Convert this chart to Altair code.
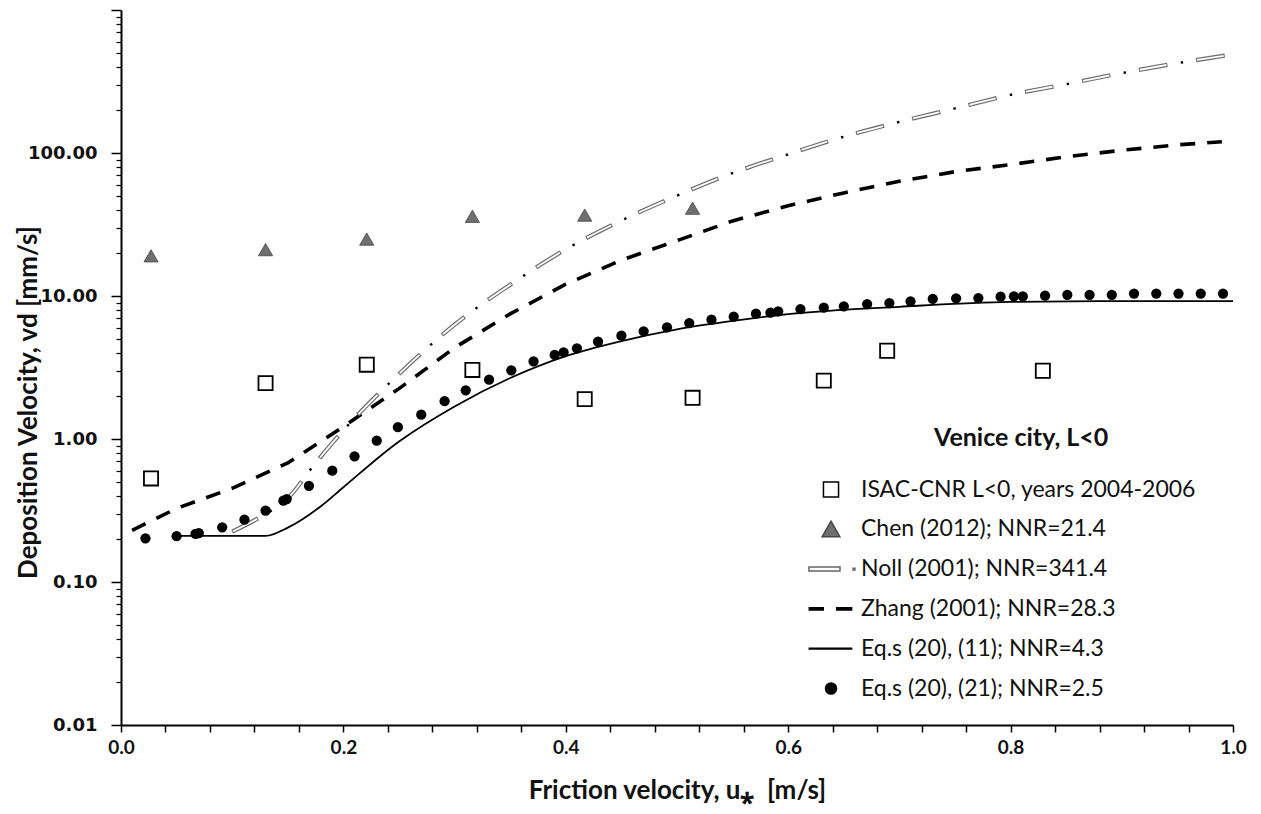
import altair as alt
import pandas as pd

S_ISAC = "ISAC-CNR L<0, years 2004-2006"
S_CHEN = "Chen (2012); NNR=21.4"
S_NOLL = "Noll (2001); NNR=341.4"
S_ZHANG = "Zhang (2001); NNR=28.3"
S_EQ11 = "Eq.s (20), (11); NNR=4.3"
S_EQ21 = "Eq.s (20), (21); NNR=2.5"
series_names = [S_ISAC, S_CHEN, S_NOLL, S_ZHANG, S_EQ11, S_EQ21]

isac_u = [0.027, 0.130, 0.221, 0.316, 0.417, 0.514, 0.632, 0.689, 0.829]
isac_v = [0.53, 2.46, 3.31, 3.04, 1.90, 1.94, 2.56, 4.14, 3.00]

chen_u = [0.027, 0.130, 0.221, 0.316, 0.417, 0.514]
chen_v = [19.1, 21.1, 25.0, 36.1, 36.8, 41.1]

noll_u = [0.10, 0.125, 0.15, 0.175, 0.20, 0.25, 0.30, 0.35, 0.40, 0.45, 0.50,
          0.55, 0.60, 0.65, 0.70, 0.75, 0.80, 0.85, 0.90, 0.95, 1.00]
noll_v = [0.225, 0.284, 0.385, 0.68, 1.15, 2.85, 6.3, 12.0, 21.2, 33.7, 50.3,
          72.4, 98.0, 130.0, 165.0, 205.0, 255.0, 303.0, 362.0, 425.0, 489.0]

zhang_u = [0.01, 0.05, 0.10, 0.15, 0.20, 0.25, 0.30, 0.35, 0.40, 0.45, 0.50,
           0.55, 0.60, 0.65, 0.70, 0.75, 0.80, 0.85, 0.90, 0.95, 0.99]
zhang_v = [0.23, 0.327, 0.452, 0.68, 1.22, 2.25, 4.35, 7.5, 12.1, 17.8, 24.4,
           33.5, 42.8, 52.6, 63.4, 74.0, 83.0, 94.0, 104.5, 114.0, 120.0]

eq11_u = [0.05, 0.10, 0.13, 0.15, 0.18, 0.20, 0.25, 0.30, 0.35, 0.40, 0.45,
          0.50, 0.55, 0.60, 0.70, 0.80, 0.90, 1.00]
eq11_v = [0.21, 0.21, 0.21, 0.24, 0.34, 0.46, 0.96, 1.69, 2.67, 3.8, 4.84,
          5.85, 6.7, 7.46, 8.4, 9.1, 9.2, 9.2]

eq21_u = [0.022, 0.050, 0.067, 0.070, 0.091, 0.111, 0.130, 0.146, 0.149, 0.169,
          0.190, 0.210, 0.230, 0.249, 0.270, 0.291, 0.310, 0.331, 0.351, 0.371,
          0.390, 0.398, 0.410, 0.429, 0.450, 0.470, 0.491, 0.511, 0.531, 0.551,
          0.571, 0.584, 0.591, 0.611, 0.632, 0.650, 0.671, 0.691, 0.710, 0.730,
          0.751, 0.771, 0.791, 0.803, 0.811, 0.831, 0.851, 0.871, 0.891, 0.911,
          0.931, 0.951, 0.971, 0.991]
eq21_v = [0.202, 0.209, 0.217, 0.220, 0.241, 0.273, 0.315, 0.370, 0.380, 0.471,
          0.600, 0.757, 0.973, 1.21, 1.48, 1.84, 2.19, 2.60, 3.02, 3.49,
          3.87, 4.04, 4.31, 4.79, 5.28, 5.66, 6.04, 6.47, 6.83, 7.17,
          7.52, 7.64, 7.82, 8.11, 8.28, 8.47, 8.79, 8.93, 9.18, 9.53,
          9.64, 9.68, 9.89, 9.95, 9.95, 10.05, 10.2, 10.2, 10.2, 10.4,
          10.4, 10.4, 10.4, 10.4]

x_ticks = [0.0, 0.04, 0.08, 0.12, 0.16, 0.2, 0.24, 0.28, 0.32, 0.36, 0.4, 0.44,
           0.48, 0.52, 0.56, 0.6, 0.64, 0.68, 0.72, 0.76, 0.8, 0.84, 0.88, 0.92,
           0.96, 1.0]
y_major = [0.01, 0.1, 1, 10, 100, 1000]
y_minor = [0.02, 0.03, 0.04, 0.05, 0.06, 0.07, 0.08, 0.09,
           0.2, 0.3, 0.4, 0.5, 0.6, 0.7, 0.8, 0.9,
           2, 3, 4, 5, 6, 7, 8, 9,
           20, 30, 40, 50, 60, 70, 80, 90,
           200, 300, 400, 500, 600, 700, 800, 900]

# legend symbols (custom paths, unit box)
legend_shapes = [
    "M-0.41,-0.41H0.41V0.41H-0.41Z",
    "M0,-0.44L0.48,0.4L-0.48,0.4Z",
    "M-1.2,-0.11H0.49V0.11H-1.2Z M1.2,-0.05H1.3V0.05H1.2Z",
    "M-1.18,-0.06H-0.42V0.06H-1.18Z M0.31,-0.06H1.12V0.06H0.31Z",
    "M-1.18,-0.02H1.12V0.02H-1.18Z",
    "M-0.3,0A0.3,0.3 0 1,0 0.3,0A0.3,0.3 0 1,0 -0.3,0Z",
]
legend_fills = ["white", "#6f6f6f", "white", "black", "black", "black"]
legend_strokes = ["black", "#444444", "#666666", "black", "black", "black"]

def frame(u, v):
    return pd.DataFrame({"u": u, "v": v})

df_isac = frame(isac_u, isac_v)
df_chen = frame(chen_u, chen_v)
df_noll = frame(noll_u, noll_v)
df_zhang = frame(zhang_u, zhang_v)
df_eq11 = frame(eq11_u, eq11_v)
df_eq21 = frame(eq21_u, eq21_v)
df_leg = pd.DataFrame({
    "u": [isac_u[0], chen_u[0], noll_u[0], zhang_u[0], eq11_u[0], eq21_u[0]],
    "v": [isac_v[0], chen_v[0], noll_v[0], zhang_v[0], eq11_v[0], eq21_v[0]],
    "series": series_names,
})

x_scale = alt.Scale(domain=[0, 1], nice=False, zero=False)
y_scale = alt.Scale(type="log", domain=[0.01, 1000], nice=False)

x_axis = alt.Axis(
    values=x_ticks,
    labelExpr="abs(datum.value*5 - round(datum.value*5)) < 0.001 ? format(datum.value, '.1f') : ''",
    title="Friction velocity, u\u204e\u00a0\u00a0[m/s]",
    grid=False, tickSize=7, tickWidth=1.5, tickColor="black",
    domainColor="black", domainWidth=2,
    labelFont="Lato", labelFontSize=19, labelFontWeight="bold", labelColor="#111111",
    labelPadding=6, labelOverlap=False, labelFlush=False,
    titleFont="Lato", titleFontSize=26, titleFontWeight="bold", titleColor="#111111",
    titleY=65, titleBaseline="middle",
)
y_axis_major = alt.Axis(
    values=y_major, orient="left",
    labelExpr="datum.value < 500 ? format(datum.value, '.2f') : ''",
    title="Deposition Velocity, vd [mm/s]",
    grid=False, tickSize=10, tickWidth=1.5, tickColor="black",
    domainColor="black", domainWidth=2,
    labelFont="DejaVu Sans", labelFontSize=18, labelFontWeight="bold", labelColor="#111111",
    labelPadding=14, labelOverlap=False, labelFlush=False, labelBaseline="middle",
    titleFont="Lato", titleFontSize=26, titleFontWeight="bold", titleColor="#111111",
    titleX=-93, titleY=392, titleAngle=-90, titleAlign="center", titleBaseline="middle",
)
y_axis_minor = alt.Axis(
    values=y_minor, orient="left", labels=False, domain=False, grid=False,
    tickSize=5, tickWidth=1.2, tickColor="black", title="",
)

X = alt.X("u:Q", scale=x_scale, axis=x_axis)

def Y(axis):
    return alt.Y("v:Q", scale=y_scale, axis=axis)

zhang = alt.Chart(df_zhang).mark_line(
    color="black", strokeWidth=3.6, strokeDash=[15, 12], strokeCap="butt"
).encode(x=X, y=Y(None))

eq11 = alt.Chart(df_eq11).mark_line(
    color="black", strokeWidth=1.8, interpolate="monotone"
).encode(x=X, y=Y(None))

noll_outer = alt.Chart(df_noll).mark_line(
    color="#6b6b6b", strokeWidth=4.2, strokeDash=[29, 29], strokeCap="butt",
    interpolate="monotone"
).encode(x=X, y=Y(None))
noll_inner = alt.Chart(df_noll).mark_line(
    color="white", strokeWidth=1.8, strokeDash=[27, 31], strokeDashOffset=-1,
    strokeCap="butt", interpolate="monotone"
).encode(x=X, y=Y(None))
noll_dots = alt.Chart(df_noll).mark_line(
    color="black", strokeWidth=2.4, strokeDash=[0, 42.5, 2.4, 13.1], strokeCap="butt",
    interpolate="monotone"
).encode(x=X, y=Y(None))

isac = alt.Chart(df_isac).mark_point(
    shape="square", size=200, filled=True, fill="white", stroke="black",
    strokeWidth=1.8, opacity=1
).encode(x=X, y=Y(y_axis_major))

chen = alt.Chart(df_chen).mark_point(
    shape="triangle-up", size=200, filled=True, fill="#6f6f6f", stroke="#444444",
    strokeWidth=0.8, opacity=1
).encode(x=X, y=Y(y_axis_minor))

eq21 = alt.Chart(df_eq21).mark_circle(size=105, color="black", opacity=1).encode(
    x=X, y=Y(None)
)

leg = alt.Legend(
    orient="none", legendX=690.5, legendY=460, title=None, padding=0,
    labelFont="Lato", labelFontSize=23, labelColor="#111111", labelLimit=500,
    labelOffset=10.5, symbolSize=1354, symbolStrokeWidth=1.5, symbolOpacity=1,
    rowPadding=7.8, symbolOffset=0,
)
legend_layer = alt.Chart(df_leg).mark_point(filled=True, opacity=0).encode(
    x=X, y=Y(None),
    shape=alt.Shape("series:N", sort=None,
                    scale=alt.Scale(domain=series_names, range=legend_shapes), legend=leg),
    fill=alt.Fill("series:N", sort=None,
                  scale=alt.Scale(domain=series_names, range=legend_fills), legend=leg),
    stroke=alt.Stroke("series:N", sort=None,
                      scale=alt.Scale(domain=series_names, range=legend_strokes), legend=leg),
)

chart = alt.layer(
    zhang, eq11, noll_outer, noll_inner, noll_dots, isac, chen, eq21, legend_layer
).resolve_axis(y="independent").properties(
    width=1112, height=715,
    padding={"left": 113, "top": 2, "right": 16, "bottom": 81},
    autosize=alt.AutoSizeParams(type="none"),
    background="white",
    title=alt.TitleParams(
        "Venice city, L<0", anchor="start", frame="group", dx=813, dy=466,
        font="Lato", fontSize=25, fontWeight="bold", color="#111111", baseline="middle",
    ),
).configure_view(strokeWidth=0)

chart.save("out.html", embed_options={"renderer": "svg", "actions": False})
